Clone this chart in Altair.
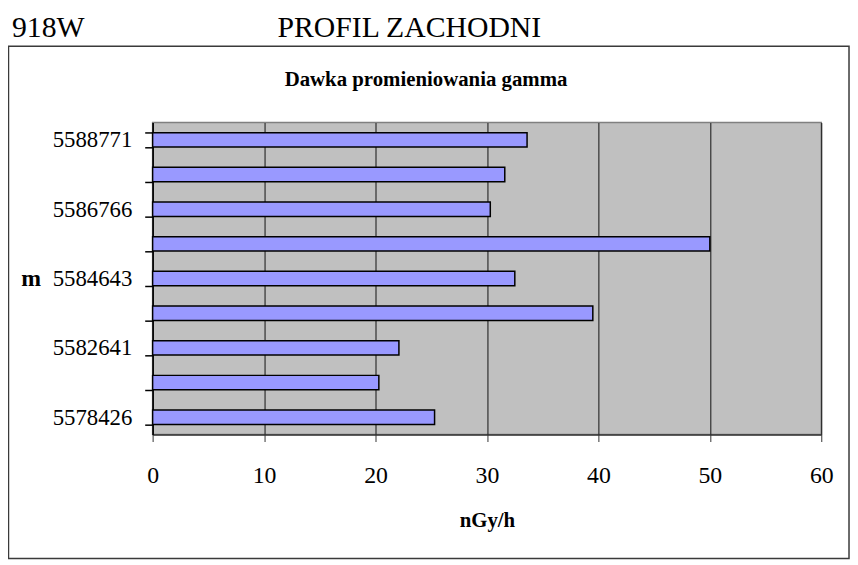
import altair as alt
import pandas as pd

# ---- data ----
positions = ["5588771", "", "5586766", "", "5584643", "", "5582641", "", "5578426"]
values = [33.6, 31.6, 30.3, 50.0, 32.5, 39.5, 22.1, 20.3, 25.3]
x_ticks = [0, 10, 20, 30, 40, 50, 60]

page_left = "918W"
page_title = "PROFIL ZACHODNI"
chart_title = "Dawka promieniowania gamma"
x_title = "nGy/h"
y_title = "m"

FONT = "Liberation Serif"

df = pd.DataFrame({"pos": list(range(len(values))), "val": values})
label_expr = "[" + ",".join("'" + p + "'" for p in positions) + "][datum.value]"

W, H = 675, 315

box = alt.Chart(pd.DataFrame({"k": [0]})).mark_rect(
    fill="transparent", stroke="#3a3a3a", strokeWidth=1.5
).encode(
    x=alt.value(-145.5), x2=alt.value(703), y=alt.value(-77), y2=alt.value(440)
)

bars = alt.Chart(df).mark_bar(
    fill="#9999FF", stroke="#000000", strokeWidth=1.5
).encode(
    x=alt.X(
        "val:Q",
        scale=alt.Scale(domain=[0, 60], nice=False, zero=True),
        axis=alt.Axis(
            values=x_ticks, title=x_title, grid=True, gridColor="#111111",
            gridWidth=1, gridOpacity=1, tickSize=7, tickColor="#333333",
            domainColor="#333333", domainWidth=1.5, labelPadding=22,
            labelFontSize=24, labelFont=FONT, labelColor="#000000",
            labelFlush=False, labelOverlap=False,
            titleFont=FONT, titleFontSize=21, titleFontWeight="bold",
            titleColor="#000000", titleY=92.5, titleBaseline="alphabetic",
        ),
    ),
    y=alt.Y(
        "pos:O",
        scale=alt.Scale(paddingInner=0.585, paddingOuter=0.2925),
        axis=alt.Axis(
            labelExpr=label_expr, title=y_title, titleAngle=0, titleX=-133,
            titleY=165, titleAlign="left", titleBaseline="alphabetic",
            titleFont=FONT, titleFontSize=24, titleFontWeight="bold",
            titleColor="#000000", tickBand="extent", tickSize=8,
            tickColor="#000000", tickWidth=1.5, domainColor="#000000",
            domainWidth=1.5, labelPadding=13, labelFontSize=23, labelFont=FONT,
            labelColor="#000000", labelOverlap=False, grid=False,
        ),
    ),
)

def txt(s, x, y, size, weight="normal", align="left"):
    return alt.Chart(pd.DataFrame({"t": [s]})).mark_text(
        font=FONT, fontSize=size, fontWeight=weight, align=align,
        baseline="alphabetic", color="#000000"
    ).encode(x=alt.value(x), y=alt.value(y), text="t:N")

t1 = txt(page_left, -142, -86, 30)
t2 = txt(page_title, 126, -86, 30)
t3 = txt(chart_title, 276, -37, 21, weight="bold", align="center")

chart = alt.layer(box, bars, t1, t2, t3).properties(
    width=W, height=H, autosize="none",
    padding={"left": 146, "top": 113, "right": 29, "bottom": 126},
).configure(
    background="#ffffff",
    view=alt.ViewConfig(fill="#C0C0C0", stroke="#808080", strokeWidth=1.5),
)

chart.save("out.html", embed_options={"renderer": "svg", "actions": False})
